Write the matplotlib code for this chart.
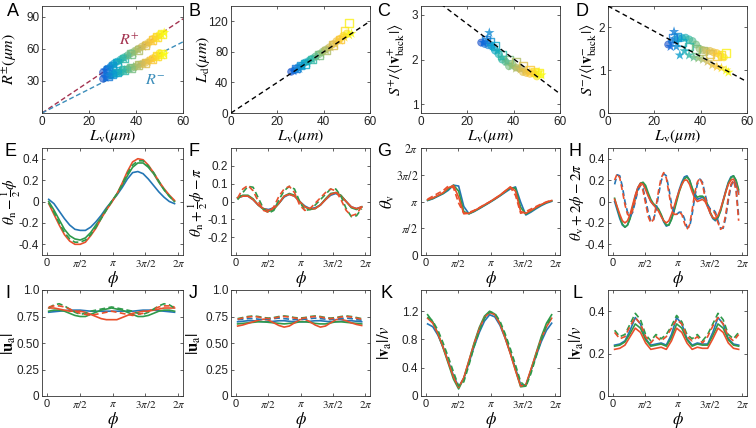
import numpy as np
import matplotlib
matplotlib.use('agg')
import matplotlib.pyplot as plt
from matplotlib.colors import LinearSegmentedColormap

plt.rcParams['font.family'] = ['Liberation Sans', 'DejaVu Sans']
plt.rcParams['mathtext.fontset'] = 'stix'
plt.rcParams['axes.linewidth'] = 0.6
plt.rcParams['axes.edgecolor'] = '#333333'

## Scatter data (panels A-D)
circ_lv = [26, 27.5, 29, 30.5, 32, 33.5, 35, 36.5, 38, 39.5, 41, 42.5, 44, 45.5, 47, 48.5, 50]
circ_rp = [38, 41, 43, 46, 48, 50, 52, 54, 56, 58, 60, 62, 64, 66, 69, 71, 73]
circ_rm = [32, 34, 35, 36, 37, 38, 40, 41, 42, 43, 45, 46, 47, 49, 51, 53, 56]
circ_ld = [54, 56, 60, 62, 66, 68, 71, 74, 77, 80, 83, 86, 90, 94, 97, 101, 104]
circ_sp = [2.38, 2.35, 2.32, 2.3, 2.2, 2.12, 2.0, 1.95, 1.85, 1.9, 1.82, 1.8, 1.72, 1.7, 1.68, 1.7, 1.62]
circ_sm = [1.6, 1.68, 1.72, 1.75, 1.75, 1.76, 1.72, 1.68, 1.6, 1.5, 1.47, 1.45, 1.45, 1.42, 1.4, 1.35, 1.3]

sq_lv = [28, 30, 32, 35, 38, 41, 44, 47, 49, 51]
sq_rp = [40, 44, 47, 51, 55, 59, 63, 68, 71, 74]
sq_rm = [34, 36, 38, 40, 42, 45, 47, 50, 53, 55]
sq_ld = [58, 62, 64, 70, 76, 82, 89, 96, 108, 118]
sq_sp = [2.45, 2.4, 2.3, 2.1, 2.0, 1.95, 1.85, 1.78, 1.72, 1.7]
sq_sm = [1.75, 1.78, 1.65, 1.55, 1.5, 1.45, 1.38, 1.32, 1.35, 1.4]

star_lv = [27, 28.5, 29.5, 31, 33, 35, 37, 39, 41, 43, 45, 47, 49, 51, 52]
star_rp = [40, 42, 43, 45, 48, 51, 54, 56, 59, 62, 65, 67, 70, 73, 75]
star_rm = [33, 35, 36, 37, 39, 40, 42, 43, 44, 46, 48, 50, 52, 54, 55]
star_ld = [55, 57, 58, 62, 66, 70, 74, 78, 82, 86, 90, 95, 99, 102, 104]
star_sp = [2.38, 2.45, 2.6, 2.3, 2.2, 2.05, 1.95, 1.85, 1.8, 1.78, 1.75, 1.72, 1.7, 1.72, 1.65]
star_sm = [1.55, 1.9, 1.55, 1.35, 1.45, 1.35, 1.3, 1.28, 1.25, 1.2, 1.12, 1.08, 1.05, 1.0, 0.95]

# fitted dashed lines
fit_x = [0, 60]
fit_rp = [0, 88]
fit_rm = [0, 66.5]
fit_ld = [0, 120]
fit_sp = [3.58, 1.23]
fit_sm = [2.5, 0.73]

## Phase curves (panels E-L)
phi = [0.1, 0.35, 0.6, 0.85, 1.1, 1.35, 1.6, 1.85, 2.1, 2.35, 2.6, 2.85, 3.1,
       3.35, 3.6, 3.85, 4.1, 4.35, 4.6, 4.85, 5.1, 5.35, 5.6, 5.85, 6.1]

e_blue = [0.02, -0.02, -0.09, -0.16, -0.22, -0.26, -0.27, -0.27, -0.24, -0.19, -0.13, -0.06, 0.0,
          0.06, 0.13, 0.21, 0.27, 0.28, 0.26, 0.21, 0.15, 0.09, 0.04, 0.0, -0.02]
e_green = [0.0, -0.08, -0.17, -0.26, -0.32, -0.35, -0.36, -0.34, -0.29, -0.22, -0.15, -0.07, 0.0,
           0.07, 0.15, 0.24, 0.32, 0.36, 0.36, 0.32, 0.26, 0.18, 0.11, 0.05, 0.0]
e_red = [-0.02, -0.12, -0.22, -0.31, -0.37, -0.40, -0.40, -0.38, -0.32, -0.25, -0.16, -0.08, -0.01,
         0.07, 0.17, 0.28, 0.37, 0.40, 0.39, 0.34, 0.27, 0.19, 0.12, 0.06, 0.01]
e_green_d = [-0.01, -0.10, -0.20, -0.29, -0.35, -0.38, -0.38, -0.36, -0.31, -0.24, -0.16, -0.08, 0.0,
             0.07, 0.16, 0.26, 0.34, 0.38, 0.38, 0.33, 0.27, 0.19, 0.11, 0.05, 0.0]

f_blue = [0.02, 0.03, 0.03, 0.01, -0.02, -0.04, -0.045, -0.035, -0.01, 0.025, 0.04, 0.03, 0.0,
          -0.025, -0.04, -0.035, -0.02, 0.01, 0.035, 0.045, 0.03, 0.0, -0.03, -0.04, -0.03]
f_green = [0.02, 0.035, 0.035, 0.015, -0.02, -0.045, -0.055, -0.045, -0.01, 0.03, 0.045, 0.035, 0.0,
           -0.03, -0.045, -0.04, -0.02, 0.015, 0.045, 0.05, 0.035, 0.0, -0.035, -0.045, -0.03]
f_red = [0.02, 0.03, 0.03, 0.01, -0.02, -0.04, -0.05, -0.04, -0.01, 0.03, 0.04, 0.03, 0.0,
         -0.03, -0.04, -0.04, -0.02, 0.01, 0.04, 0.05, 0.03, 0.0, -0.03, -0.04, -0.03]
f_red_d = [0.02, 0.07, 0.09, 0.06, 0.0, -0.05, -0.06, -0.03, 0.03, 0.07, 0.085, 0.05, -0.02,
           -0.05, -0.04, -0.01, 0.02, 0.05, 0.07, 0.06, 0.01, -0.05, -0.08, -0.07, -0.03]
f_green_d = [0.01, 0.05, 0.085, 0.08, 0.02, -0.04, -0.065, -0.05, 0.01, 0.06, 0.085, 0.07, 0.0,
             -0.05, -0.045, -0.02, 0.01, 0.04, 0.07, 0.07, 0.03, -0.04, -0.085, -0.08, -0.04]

g_blue = [3.20, 3.30, 3.45, 3.60, 3.80, 4.10, 4.05, 2.85, 2.42, 2.55, 2.72, 2.90, 3.08,
          3.27, 3.47, 3.68, 3.88, 4.00, 3.10, 2.35, 2.52, 2.72, 2.90, 3.05, 3.15]
g_green = [3.22, 3.32, 3.48, 3.62, 3.88, 4.10, 3.75, 2.55, 2.42, 2.57, 2.74, 2.92, 3.10,
           3.29, 3.49, 3.72, 3.95, 3.92, 2.80, 2.40, 2.58, 2.77, 2.94, 3.08, 3.18]
g_red = [3.25, 3.35, 3.50, 3.66, 3.95, 4.08, 3.40, 2.42, 2.45, 2.60, 2.77, 2.95, 3.12,
         3.32, 3.52, 3.76, 4.00, 3.75, 2.55, 2.45, 2.62, 2.80, 2.97, 3.10, 3.20]
g_red_d = [3.28, 3.45, 3.62, 3.78, 4.05, 3.95, 3.05, 2.45, 2.50, 2.62, 2.78, 2.95, 3.12,
           3.30, 3.50, 3.75, 3.98, 3.50, 2.45, 2.55, 2.70, 2.85, 3.00, 3.12, 3.22]

# panel H has faster oscillations: finer sampling
phi_h = [0.1, 0.225, 0.35, 0.475, 0.6, 0.725, 0.85, 0.975, 1.1, 1.225, 1.35, 1.475, 1.6,
         1.725, 1.85, 1.975, 2.1, 2.225, 2.35, 2.475, 2.6, 2.725, 2.85, 2.975, 3.1,
         3.225, 3.35, 3.475, 3.6, 3.725, 3.85, 3.975, 4.1, 4.225, 4.35, 4.475, 4.6,
         4.725, 4.85, 4.975, 5.1, 5.225, 5.35, 5.475, 5.6, 5.725, 5.85, 5.975, 6.1]
h_blue = [0.0, -0.08, -0.16, -0.22, -0.24, -0.22, -0.15, -0.05, 0.05, 0.13, 0.17, 0.17, 0.13,
          0.06, 0.0, -0.03, -0.05, -0.08, -0.13, -0.19, -0.23, -0.22, -0.16, -0.08, 0.02,
          0.11, 0.18, 0.23, 0.24, 0.20, 0.12, 0.05, 0.02, 0.03, 0.04, 0.02, -0.04,
          -0.11, -0.16, -0.18, -0.15, -0.08, 0.01, 0.10, 0.18, 0.23, 0.24, 0.19, 0.09]
h_green = [0.03, -0.06, -0.14, -0.21, -0.24, -0.22, -0.16, -0.06, 0.04, 0.12, 0.17, 0.18, 0.15,
           0.08, 0.02, -0.02, -0.04, -0.07, -0.12, -0.18, -0.22, -0.22, -0.17, -0.09, 0.0,
           0.09, 0.16, 0.21, 0.23, 0.20, 0.13, 0.07, 0.04, 0.05, 0.05, 0.03, -0.03,
           -0.10, -0.15, -0.17, -0.15, -0.09, 0.0, 0.09, 0.17, 0.22, 0.24, 0.20, 0.11]
h_red = [0.02, -0.05, -0.12, -0.18, -0.20, -0.18, -0.12, -0.03, 0.06, 0.13, 0.17, 0.16, 0.11,
         0.05, 0.0, -0.03, -0.06, -0.09, -0.14, -0.18, -0.20, -0.18, -0.12, -0.05, 0.03,
         0.10, 0.16, 0.20, 0.20, 0.16, 0.09, 0.03, 0.0, 0.01, 0.02, 0.0, -0.05,
         -0.11, -0.15, -0.16, -0.13, -0.07, 0.01, 0.09, 0.16, 0.20, 0.21, 0.16, 0.07]
h_red_d = [0.20, 0.26, 0.22, 0.10, -0.03, -0.12, -0.14, -0.08, 0.02, 0.12, 0.16, 0.10, -0.02,
           -0.14, -0.20, -0.17, -0.05, 0.10, 0.22, 0.27, 0.22, 0.08, -0.06, -0.12, -0.12,
           -0.10, -0.12, -0.20, -0.26, -0.22, -0.08, 0.08, 0.18, 0.22, 0.16, 0.04, -0.05,
           -0.08, -0.08, -0.12, -0.20, -0.26, -0.24, -0.12, 0.04, 0.16, 0.20, 0.10, -0.18]
h_blue_d = [0.16, 0.25, 0.24, 0.14, 0.0, -0.10, -0.14, -0.10, 0.0, 0.10, 0.15, 0.12, 0.02,
            -0.10, -0.18, -0.18, -0.08, 0.06, 0.19, 0.26, 0.24, 0.12, -0.02, -0.10, -0.12,
            -0.10, -0.10, -0.16, -0.24, -0.24, -0.12, 0.04, 0.16, 0.21, 0.18, 0.07, -0.03,
            -0.07, -0.07, -0.10, -0.18, -0.25, -0.25, -0.15, 0.01, 0.14, 0.20, 0.13, -0.14]

i_blue = [0.79, 0.795, 0.80, 0.805, 0.81, 0.81, 0.81, 0.805, 0.80, 0.80, 0.80, 0.80, 0.80,
          0.80, 0.80, 0.80, 0.80, 0.805, 0.81, 0.81, 0.81, 0.805, 0.80, 0.795, 0.79]
i_green = [0.80, 0.81, 0.81, 0.80, 0.78, 0.76, 0.75, 0.75, 0.77, 0.79, 0.81, 0.82, 0.83,
           0.82, 0.81, 0.79, 0.77, 0.75, 0.75, 0.76, 0.78, 0.80, 0.81, 0.81, 0.80]
i_red = [0.83, 0.83, 0.82, 0.81, 0.80, 0.80, 0.80, 0.79, 0.77, 0.75, 0.73, 0.72, 0.72,
         0.72, 0.74, 0.76, 0.78, 0.79, 0.80, 0.80, 0.81, 0.82, 0.83, 0.83, 0.83]
i_green_d = [0.83, 0.86, 0.87, 0.85, 0.82, 0.79, 0.77, 0.78, 0.80, 0.81, 0.82, 0.83, 0.84,
             0.83, 0.82, 0.81, 0.80, 0.78, 0.77, 0.79, 0.82, 0.85, 0.87, 0.86, 0.83]
i_red_d = [0.84, 0.85, 0.85, 0.84, 0.82, 0.80, 0.78, 0.77, 0.76, 0.77, 0.78, 0.79, 0.80,
           0.79, 0.78, 0.77, 0.76, 0.77, 0.78, 0.80, 0.82, 0.84, 0.85, 0.85, 0.84]

j_blue = [0.70, 0.705, 0.71, 0.71, 0.705, 0.70, 0.70, 0.705, 0.71, 0.71, 0.705, 0.70, 0.70,
          0.70, 0.705, 0.71, 0.71, 0.705, 0.70, 0.70, 0.705, 0.71, 0.71, 0.705, 0.70]
j_green = [0.68, 0.685, 0.69, 0.695, 0.70, 0.70, 0.695, 0.69, 0.685, 0.68, 0.685, 0.69, 0.70,
           0.70, 0.695, 0.685, 0.68, 0.68, 0.69, 0.70, 0.70, 0.695, 0.69, 0.685, 0.68]
j_red = [0.66, 0.67, 0.685, 0.70, 0.715, 0.725, 0.715, 0.69, 0.665, 0.65, 0.66, 0.69, 0.72,
         0.725, 0.70, 0.67, 0.65, 0.66, 0.69, 0.72, 0.725, 0.71, 0.69, 0.675, 0.665]
j_blue_d = [0.72, 0.725, 0.73, 0.73, 0.725, 0.72, 0.725, 0.73, 0.735, 0.73, 0.725, 0.72, 0.72,
            0.725, 0.73, 0.735, 0.73, 0.725, 0.72, 0.725, 0.73, 0.735, 0.73, 0.72, 0.715]
j_red_d = [0.725, 0.735, 0.745, 0.75, 0.745, 0.735, 0.73, 0.735, 0.745, 0.75, 0.745, 0.735, 0.73,
           0.735, 0.745, 0.75, 0.745, 0.735, 0.73, 0.735, 0.745, 0.75, 0.745, 0.735, 0.725]
j_green_d = [0.73, 0.74, 0.75, 0.755, 0.75, 0.74, 0.735, 0.74, 0.75, 0.755, 0.75, 0.74, 0.735,
             0.74, 0.75, 0.755, 0.75, 0.74, 0.735, 0.74, 0.75, 0.755, 0.75, 0.74, 0.73]

k_blue = [1.02, 0.98, 0.86, 0.69, 0.49, 0.29, 0.13, 0.25, 0.47, 0.70, 0.90, 1.06, 1.15,
          1.12, 1.00, 0.82, 0.61, 0.39, 0.16, 0.15, 0.36, 0.57, 0.77, 0.93, 1.03]
k_green = [1.15, 1.05, 0.88, 0.68, 0.46, 0.24, 0.10, 0.25, 0.50, 0.75, 0.97, 1.13, 1.20,
           1.16, 1.03, 0.84, 0.61, 0.37, 0.13, 0.14, 0.37, 0.61, 0.84, 1.03, 1.15]
k_red = [1.10, 1.03, 0.88, 0.69, 0.48, 0.27, 0.12, 0.26, 0.50, 0.74, 0.95, 1.11, 1.18,
         1.15, 1.02, 0.82, 0.60, 0.36, 0.14, 0.16, 0.38, 0.60, 0.81, 0.98, 1.10]
k_green_d = [1.12, 1.06, 0.93, 0.75, 0.55, 0.34, 0.14, 0.20, 0.44, 0.70, 0.92, 1.10, 1.19,
             1.17, 1.06, 0.88, 0.67, 0.44, 0.20, 0.13, 0.32, 0.56, 0.80, 1.00, 1.13]

l_blue = [0.24, 0.245, 0.26, 0.31, 0.37, 0.34, 0.27, 0.24, 0.245, 0.25, 0.24, 0.29, 0.37,
          0.34, 0.27, 0.24, 0.25, 0.245, 0.245, 0.30, 0.37, 0.34, 0.27, 0.245, 0.24]
l_green = [0.235, 0.24, 0.255, 0.295, 0.34, 0.32, 0.265, 0.235, 0.24, 0.245, 0.235, 0.275, 0.34,
           0.32, 0.265, 0.235, 0.245, 0.24, 0.24, 0.285, 0.34, 0.32, 0.265, 0.24, 0.235]
l_red = [0.22, 0.225, 0.24, 0.28, 0.32, 0.30, 0.25, 0.22, 0.225, 0.23, 0.22, 0.26, 0.32,
         0.30, 0.25, 0.22, 0.23, 0.225, 0.225, 0.27, 0.32, 0.30, 0.25, 0.225, 0.22]
l_green_d = [0.31, 0.28, 0.29, 0.34, 0.39, 0.36, 0.29, 0.26, 0.29, 0.27, 0.29, 0.33, 0.38,
             0.35, 0.29, 0.27, 0.29, 0.26, 0.29, 0.34, 0.39, 0.36, 0.29, 0.27, 0.30]
l_red_d = [0.30, 0.27, 0.28, 0.33, 0.37, 0.34, 0.28, 0.25, 0.28, 0.26, 0.28, 0.32, 0.36,
           0.34, 0.28, 0.26, 0.28, 0.25, 0.28, 0.33, 0.37, 0.34, 0.28, 0.26, 0.29]

# style
BLUE = '#2476b5'
GREEN = '#2f9a4a'
RED = '#e8502c'
parula = LinearSegmentedColormap.from_list(
    'parula', ['#352a87', '#0f5cdd', '#1481d6', '#06a4ca', '#2eb7a4', '#87bf77',
               '#d1bb59', '#fec832', '#f9fb0e'])

W, H = 756.0, 428.0
cols = [42, 231, 421, 608]
widths = [141, 139, 139, 139]
rows = [(6, 113), (148, 255), (290, 396)]
# label offsets in px: (ylabel centre left of axes, xlabel centre below axes)
ylab_off = [[32, 28, 24, 19], [31, 33, 33, 31], [33, 37, 36, 31]]
xlab_off = [23, 24, 23.5]


def make_ax(fig, c, r):
    top, bot = rows[r]
    ax = fig.add_axes([cols[c] / W, 1 - bot / H, widths[c] / W, (bot - top) / H])
    ax._cr = (c, r)
    return ax


def place_labels(ax):
    c, r = ax._cr
    top, bot = rows[r]
    ax.yaxis.set_label_coords(-ylab_off[r][c] / widths[c], 0.5)
    ax.yaxis.label.set_va('center')
    ax.xaxis.set_label_coords(0.5, -xlab_off[r] / (bot - top))
    ax.xaxis.label.set_va('center')


def style(ax):
    ax.tick_params(direction='in', length=2, width=0.5, top=True, right=True,
                   labelsize=8.5, pad=2, colors='#222222')


def norm(v):
    return np.clip((np.array(v) - 25.0) / 27.0, 0, 1) ** 0.7


def scatter_set(ax, c_y, s_y, t_y):
    ax.scatter(circ_lv, c_y, s=26, c=parula(norm(circ_lv)), alpha=0.6,
               edgecolors=parula(norm(circ_lv)), linewidths=0.6, zorder=2)
    ax.scatter(sq_lv, s_y, s=30, marker='s', facecolors='none',
               edgecolors=parula(norm(sq_lv)), linewidths=1.0, alpha=0.8, zorder=3)
    ax.scatter(star_lv, t_y, s=60, marker='*', c=parula(norm(star_lv)), alpha=0.8,
               linewidths=0, zorder=3)


def scatter_axes(ax, ylim, yticks, ylabel):
    ax.set_xlim(0, 60)
    ax.set_ylim(*ylim)
    ax.set_xticks([0, 20, 40, 60])
    ax.set_yticks(yticks)
    ax.set_xlabel(r'$L_{\rm v}(\mu m)$', fontsize=11.5)
    ax.set_ylabel(ylabel, fontsize=11.5)
    style(ax)
    place_labels(ax)


def phi_panel(ax, curves, ylim, yticks, yticklabels, ylabel, x=phi, ysize=12):
    for y, col, ls in curves:
        if ls == '-':
            ax.plot(x, y, color=col, lw=1.2, zorder=2)
        else:
            ax.plot(x, y, color=col, lw=1.2, ls=(0, (3.5, 2)), zorder=3)
    ax.set_xlim(-0.22, 2 * np.pi + 0.22)
    ax.set_ylim(*ylim)
    ax.set_xticks([0, np.pi / 2, np.pi, 3 * np.pi / 2, 2 * np.pi])
    ax.set_xticklabels(['0', r'$\pi/2$', r'$\pi$', r'$3\pi/2$', r'$2\pi$'])
    ax.set_yticks(yticks)
    ax.set_yticklabels(yticklabels)
    ax.set_xlabel(r'$\phi$', fontsize=12)
    ax.set_ylabel(ylabel, fontsize=ysize)
    style(ax)
    ax.tick_params(axis='x', labelsize=8)
    place_labels(ax)


fig = plt.figure(figsize=(7.56, 4.28), dpi=100)

# A
ax = make_ax(fig, 0, 0)
ax.plot(fit_x, fit_rp, color='#a3324f', ls=(0, (3.5, 2)), lw=1.0, zorder=1)
ax.plot(fit_x, fit_rm, color='#3b8dba', ls=(0, (3.5, 2)), lw=1.0, zorder=1)
scatter_set(ax, circ_rp, sq_rp, star_rp)
scatter_set(ax, circ_rm, sq_rm, star_rm)
ax.text(37, 68, r'$R^{+}$', color='#a3324f', fontsize=11.5, ha='center', va='center')
ax.text(48, 31, r'$R^{-}$', color='#3b8dba', fontsize=11.5, ha='center', va='center')
scatter_axes(ax, (0, 100), [30, 60, 90], r'$R^{\pm}(\mu m)$')

# B
ax = make_ax(fig, 1, 0)
ax.plot(fit_x, fit_ld, color='k', ls=(0, (3.5, 2.5)), lw=1.0, zorder=4)
scatter_set(ax, circ_ld, sq_ld, star_ld)
scatter_axes(ax, (0, 140), [0, 40, 80, 120], r'$L_{\rm d}(\mu m)$')

# C
ax = make_ax(fig, 2, 0)
ax.plot(fit_x, fit_sp, color='k', ls=(0, (3.5, 2.5)), lw=1.0, zorder=4)
scatter_set(ax, circ_sp, sq_sp, star_sp)
scatter_axes(ax, (0.8, 3.2), [1, 2, 3], r'$S^{+}/\langle|\mathbf{v}^{+}_{\rm back}|\rangle$')

# D
ax = make_ax(fig, 3, 0)
ax.plot(fit_x, fit_sm, color='k', ls=(0, (3.5, 2.5)), lw=1.0, zorder=4)
scatter_set(ax, circ_sm, sq_sm, star_sm)
scatter_axes(ax, (0, 2.5), [0, 1, 2], r'$S^{-}/\langle|\mathbf{v}^{-}_{\rm back}|\rangle$')

fine = ['-0.4', '-0.2', '0', '0.2', '0.4']
# E
ax = make_ax(fig, 0, 1)
phi_panel(ax, [(e_blue, BLUE, '-'), (e_green, GREEN, '-'), (e_green_d, GREEN, '--'), (e_red, RED, '-')],
          (-0.5, 0.5), [-0.4, -0.2, 0, 0.2, 0.4], fine, r'$\theta_{\rm n}-\frac{1}{2}\phi$', ysize=11)
# F
ax = make_ax(fig, 1, 1)
phi_panel(ax, [(f_blue, BLUE, '-'), (f_green, GREEN, '-'), (f_red, RED, '-'),
               (f_green_d, GREEN, '--'), (f_red_d, RED, '--')],
          (-0.3, 0.3), [-0.2, -0.1, 0, 0.1, 0.2], ['-0.2', '-0.1', '0', '0.1', '0.2'],
          r'$\theta_{\rm n}+\frac{1}{2}\phi-\pi$', ysize=11)
# G
ax = make_ax(fig, 2, 1)
phi_panel(ax, [(g_blue, BLUE, '-'), (g_green, GREEN, '-'), (g_red, RED, '-'), (g_red_d, RED, '--')],
          (0, 2 * np.pi), [0, np.pi / 2, np.pi, 3 * np.pi / 2, 2 * np.pi],
          ['0', r'$\pi/2$', r'$\pi$', r'$3\pi/2$', r'$2\pi$'], r'$\theta_{\rm v}$')
# H
ax = make_ax(fig, 3, 1)
phi_panel(ax, [(h_blue, BLUE, '-'), (h_green, GREEN, '-'), (h_red, RED, '-'),
               (h_blue_d, BLUE, '--'), (h_red_d, RED, '--')],
          (-0.5, 0.5), [-0.4, -0.2, 0, 0.2, 0.4], fine, r'$\theta_{\rm v}+2\phi-2\pi$', x=phi_h, ysize=11)

quarter = ['0', '0.25', '0.50', '0.75', '1.0']
# I
ax = make_ax(fig, 0, 2)
phi_panel(ax, [(i_blue, BLUE, '-'), (i_green, GREEN, '-'), (i_red, RED, '-'),
               (i_green_d, GREEN, '--'), (i_red_d, RED, '--')],
          (0, 1), [0, 0.25, 0.5, 0.75, 1.0], quarter, r'$|\mathbf{u}_{\rm a}|$')
# J
ax = make_ax(fig, 1, 2)
phi_panel(ax, [(j_blue, BLUE, '-'), (j_green, GREEN, '-'), (j_red, RED, '-'),
               (j_blue_d, BLUE, '--'), (j_green_d, GREEN, '--'), (j_red_d, RED, '--')],
          (0, 1), [0, 0.25, 0.5, 0.75, 1.0], quarter, r'$|\mathbf{u}_{\rm a}|$')
# K
ax = make_ax(fig, 2, 2)
phi_panel(ax, [(k_blue, BLUE, '-'), (k_green, GREEN, '-'), (k_red, RED, '-'), (k_green_d, GREEN, '--')],
          (0, 1.5), [0, 0.4, 0.8, 1.2], ['0', '0.4', '0.8', '1.2'], r'$|\mathbf{v}_{\rm a}|/v$')
# L
ax = make_ax(fig, 3, 2)
phi_panel(ax, [(l_blue, BLUE, '-'), (l_green, GREEN, '-'), (l_red, RED, '-'),
               (l_green_d, GREEN, '--'), (l_red_d, RED, '--')],
          (0, 0.5), [0, 0.2, 0.4], ['0', '0.2', '0.4'], r'$|\mathbf{v}_{\rm a}|/v$')

# panel letters
letters = [('A', 13, 12), ('B', 194, 12), ('C', 384, 12), ('D', 582, 12),
           ('E', 10, 152), ('F', 194, 152), ('G', 384, 152), ('H', 575, 152),
           ('I', 8, 293), ('J', 193, 293), ('K', 386, 293), ('L', 577, 293)]
for t, x, y in letters:
    fig.text(x / W, 1 - y / H, t, fontsize=13, ha='center', va='center')

fig.savefig('out.png', dpi=100)
